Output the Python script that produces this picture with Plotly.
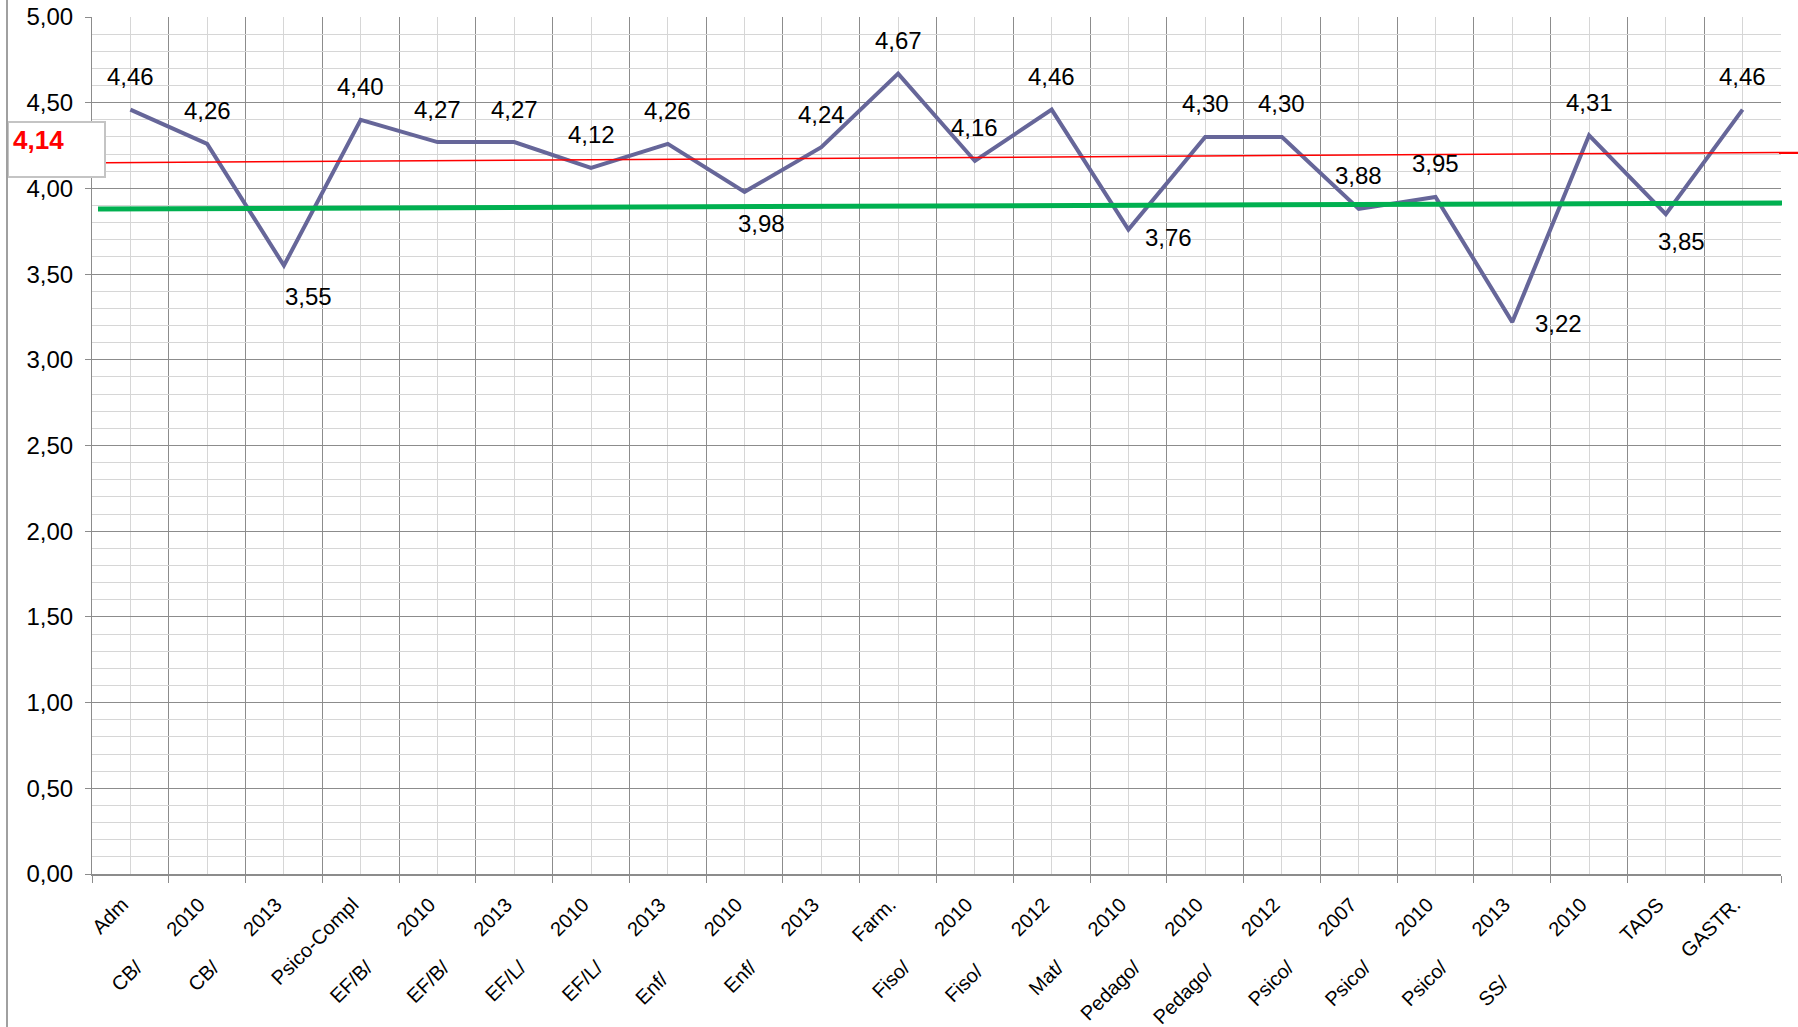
import plotly.graph_objects as go

# ---- data ----
cat_prefix = ["", "CB/", "CB/", "", "EF/B/", "EF/B/", "EF/L/", "EF/L/", "Enf/", "Enf/", "",
              "Fiso/", "Fiso/", "Mat/", "Pedago/", "Pedago/", "Psico/", "Psico/", "Psico/", "SS/", "", ""]
cat_main = ["Adm", "2010", "2013", "Psico-Compl", "2010", "2013", "2010", "2013", "2010", "2013", "Farm.",
            "2010", "2012", "2010", "2010", "2012", "2007", "2010", "2013", "2010", "TADS", "GASTR."]
values = [4.46, 4.26, 3.55, 4.40, 4.27, 4.27, 4.12, 4.26, 3.98, 4.24, 4.67,
          4.16, 4.46, 3.76, 4.30, 4.30, 3.88, 3.95, 3.22, 4.31, 3.85, 4.46]
mean_label = "4,14"
mean_line = [4.15, 4.21]      # red reference line (start, end)
green_line = [3.88, 3.915]    # green reference line (start, end)

# ---- styling helpers ----
W, H = 1798, 1027
L, R, T, B = 92, 17, 17, 153
PW, PH = W - L - R, H - T - B

NB = "\u00a0"
base_gap = 8
extra_gap = {8: 3, 12: 1, 15: 1, 19: 4}
ticktext = [(p + NB * (base_gap + extra_gap.get(i, 0)) + m) if p else m
            for i, (p, m) in enumerate(zip(cat_prefix, cat_main))]
xs = list(range(len(values)))

fmt = lambda v: f"{v:.2f}".replace(".", ",")

# label placement (pixel offsets); default above
label_shift = {2: (25, -31), 8: (17, -32), 13: (40, -8), 18: (46, -1), 20: (16, -27)}

DARK = "#8C8C8C"
LIGHT = "#D6D6D6"
FONT = "Liberation Sans, Arial, sans-serif"

fig = go.Figure()
fig.add_trace(go.Scatter(x=xs, y=values, mode="lines",
                         line=dict(color="#666699", width=4), hoverinfo="skip",
                         showlegend=False))

annotations = []
for i, v in zip(xs, values):
    dx, dy = label_shift.get(i, (0, 33))
    annotations.append(dict(x=i, y=v, xref="x", yref="y", text=fmt(v), showarrow=False,
                            xshift=dx, yshift=dy, font=dict(size=24, color="black", family=FONT)))

# mean label box text
annotations.append(dict(xref="paper", yref="paper",
                        x=(11 - L) / PW, y=(H - B - 140) / PH,
                        xanchor="left", yanchor="middle", text="<b>" + mean_label + "</b>",
                        showarrow=False, font=dict(size=26, color="#FF0000", family=FONT)))

shapes = [
    # red mean line
    dict(type="line", xref="paper", yref="y", x0=(105 - L) / PW, x1=(W - L) / PW,
         y0=mean_line[0], y1=mean_line[1], line=dict(color="#FF0000", width=1.5), layer="above"),
    # green line
    dict(type="line", xref="paper", yref="y", x0=(98 - L) / PW, x1=(1782 - L) / PW,
         y0=green_line[0], y1=green_line[1], line=dict(color="#00B050", width=5), layer="above"),
    # mean label box
    dict(type="rect", xref="paper", yref="paper",
         x0=(8 - L) / PW, x1=(105 - L) / PW,
         y0=(H - B - 177) / PH, y1=(H - B - 122) / PH,
         line=dict(color="#C4C4C4", width=2), fillcolor="white", layer="above"),
    # outer chart border (left)
    dict(type="line", xref="paper", yref="paper", x0=(7 - L) / PW, x1=(7 - L) / PW,
         y0=-B / PH, y1=(PH + T) / PH, line=dict(color="#A0A0A0", width=2)),
]

fig.update_layout(
    width=W, height=H,
    margin=dict(l=L, r=R, t=T, b=B, pad=0, autoexpand=False),
    plot_bgcolor="white", paper_bgcolor="white",
    separators=",.",
    font=dict(family=FONT, color="black"),
    annotations=annotations, shapes=shapes,
    xaxis=dict(range=[-0.5, len(values) - 0.5], tickmode="array", tickvals=xs, ticktext=ticktext,
               tickangle=-45, ticks="", showgrid=True, gridcolor=LIGHT, gridwidth=1,
               automargin=False, ticklabelstandoff=9, ticklabelshift=-8,
               tickfont=dict(size=20, family=FONT, color="black"),
               showline=True, linecolor=DARK, linewidth=2, zeroline=False,
               minor=dict(tickmode="array", tickvals=[i - 0.5 for i in range(len(values) + 1)],
                          ticks="outside", ticklen=7, tickcolor=DARK, tickwidth=1,
                          showgrid=True, gridcolor=DARK, gridwidth=1)),
    yaxis=dict(range=[0, 5], tickmode="linear", tick0=0, dtick=0.5, tickformat=".2f",
               showgrid=True, gridcolor=DARK, gridwidth=1, zeroline=False,
               automargin=False,
               ticks="outside", ticklen=6, tickcolor=DARK, ticklabelstandoff=7,
               tickfont=dict(size=24, family=FONT, color="black"),
               showline=True, linecolor=DARK, linewidth=1,
               minor=dict(dtick=0.1, showgrid=True, gridcolor=LIGHT, gridwidth=1)),
)

fig.write_html("out.html", config={"displayModeBar": False},
               post_script="document.body.style.margin='0px';")
